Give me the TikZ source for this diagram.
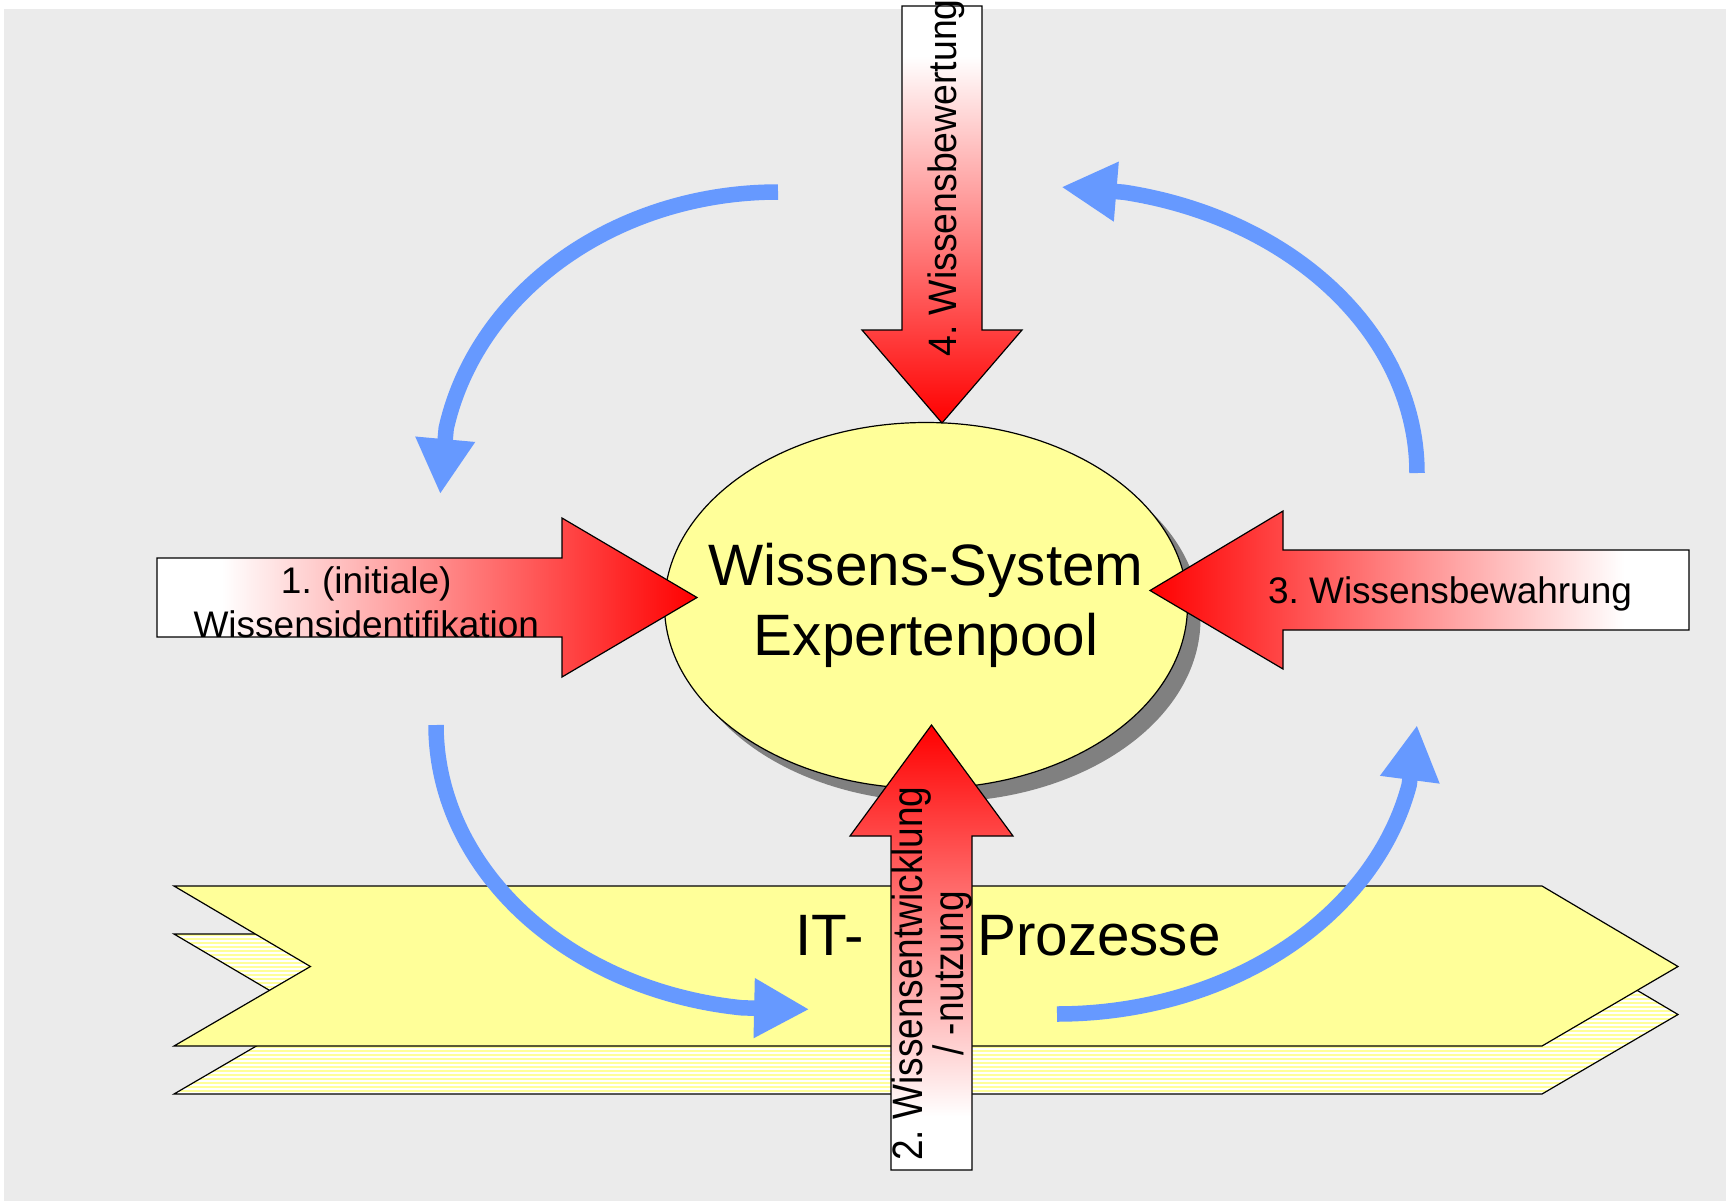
\documentclass[tikz,border=0pt]{standalone}
\usepackage{fontspec}
\setmainfont{Liberation Sans}
\usetikzlibrary{shapes.geometric,arrows.meta,patterns.meta}
\definecolor{canvasgray}{RGB}{235,235,235}
\definecolor{poolyellow}{RGB}{255,255,153}
\definecolor{cycleblue}{RGB}{102,153,255}
\definecolor{shadowgray}{RGB}{128,128,128}
% white tail fading into a red tip
\pgfdeclarehorizontalshading{redfade}{100bp}{color(0bp)=(white); color(31bp)=(white); color(75bp)=(red); color(100bp)=(red)}
% allow tightly set two-line labels, plain spaces after numbering dots
\setlength{\lineskiplimit}{-100pt}
\frenchspacing
\begin{document}
\begin{tikzpicture}[x=0.5pt,y=-0.5pt,
  outline/.style={draw=black, line width=0.6pt},
  blockarrow/.style={outline, shading=redfade},
  band/.style={outline, fill=poolyellow},
  cyclearrow/.style={draw=cycleblue, line width=7.75pt, -{Triangle[width=28pt,length=27.6pt]}},
  steplabel/.style={inner sep=0pt, font=\fontsize{18.5pt}{22pt}\selectfont},
  biglabel/.style={inner sep=0pt, font=\fontsize{29.2pt}{34.7pt}\selectfont}
]
\useasboundingbox (0,0) rectangle (1726,1201);
\fill[white] (0,0) rectangle (1726,1201);
\fill[canvasgray] (4,9) rectangle (1726,1201);

% process band: back layer (striped) and front layer
\fill[poolyellow, postaction={pattern={Lines[angle=0,distance=2pt,line width=0.6pt]}, pattern color=white}]
  (174,934) -- (1542,934) -- (1678,1014.5) -- (1542,1094) -- (174,1094) -- (310.4,1014.5) -- cycle;
\draw[outline]
  (174,934) -- (1542,934) -- (1678,1014.5) -- (1542,1094) -- (174,1094) -- (310.4,1014.5) -- cycle;
\path[band] (174,886) -- (1542,886) -- (1678,966.5) -- (1542,1046) -- (174,1046) -- (310.4,966.5) -- cycle;
\node[biglabel, anchor=base west] (it) at (795,955.5) {IT-\hspace{56.8pt}Prozesse};

% knowledge pool with drop shadow
\node[ellipse, fill=shadowgray, minimum width=261.5pt, minimum height=183pt, inner sep=0pt] (poolshadow) at (939,619) {};
\node[ellipse, outline, fill=poolyellow, minimum width=261.5pt, minimum height=183pt, inner sep=0pt] (pool) at (926,605.5) {};
\node[biglabel, align=center] (pooltext) at (pool.center) {Wissens-System\\Expertenpool};

% blue cycle around the pool (elliptic arcs, last stretch straight under the tip)
\draw[cyclearrow] plot[domain=90:169, samples=80] ({778+338*cos(\x)}, {484-292*sin(\x)})
  -- ({778+338*cos(182)}, {484-292*sin(182)});
\draw[cyclearrow] plot[domain=180:263, samples=80] ({785+349*cos(\x)}, {725-285*sin(\x)})
  -- ({785+349*cos(274)}, {725-285*sin(274)});
\draw[cyclearrow] plot[domain=-90:-12, samples=80] ({1057+360*cos(\x)}, {725-289*sin(\x)})
  -- ({1057+360*cos(0)}, {725-289*sin(0)});
\draw[cyclearrow] plot[domain=0:79, samples=80] ({1055+362*cos(\x)}, {473-286*sin(\x)})
  -- ({1055+362*cos(89)}, {473-286*sin(89)});

% four block arrows pointing at the pool
\shadedraw[blockarrow, shading angle=0]
  (157,558) -- (562,558) -- (562,518) -- (697,597.5) -- (562,677) -- (562,637) -- (157,637) -- cycle;
\shadedraw[blockarrow, shading angle=180]
  (1689,550) -- (1283,550) -- (1283,511) -- (1150,590.5) -- (1283,669) -- (1283,630) -- (1689,630) -- cycle;
\shadedraw[blockarrow, shading angle=270]
  (902,6) -- (982,6) -- (982,330) -- (1022,330) -- (942,423) -- (862,330) -- (902,330) -- cycle;
\shadedraw[blockarrow, shading angle=90]
  (891,1170) -- (972,1170) -- (972,836) -- (1013,836) -- (931.5,725) -- (850,836) -- (891,836) -- cycle;

% arrow labels
\node[steplabel, align=center] (ident) at (366.3,602) {1. (initiale)\\Wissensidentifikation};
\node[steplabel, anchor=base] (bewahr) at (1450,603.3) {3. Wissensbewahrung};
\node[inner sep=0pt, font=\fontsize{18.7pt}{22pt}\selectfont, anchor=base, rotate=90, yscale=1.06] (bewert) at (956.7,178) {4. Wissensbewertung};
\node[inner sep=0pt, font=\fontsize{18.5pt}{17.4pt}\selectfont, align=center, rotate=90, yscale=1.15] (entw) at (932,973.5) {2. Wissensentwicklung\\/ -nutzung};
\end{tikzpicture}
\end{document}
